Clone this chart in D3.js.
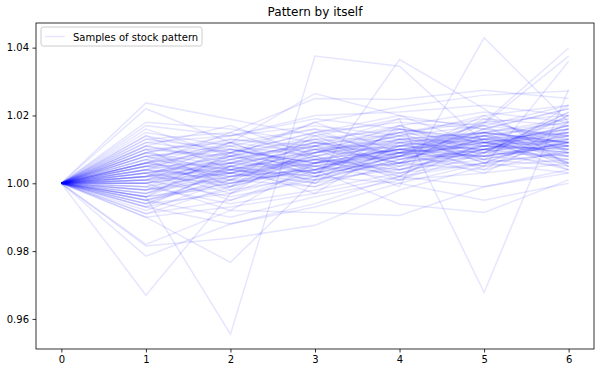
<!DOCTYPE html>
<html>
<head>
    <meta charset="utf-8" />
    <title>Pattern by itself</title>
    <script src="https://d3js.org/d3.v7.min.js"></script>
    <style>
        body { margin: 0; background: #fff; }
        text { font-family: "DejaVu Sans", sans-serif; fill: #000; }
        .tick text { font-size: 10px; }
        .tick line { stroke: #000; stroke-width: 0.8; }
        .domain { display: none; }
        .line { fill: none; stroke: blue; stroke-opacity: 0.1; stroke-width: 1.5; }
    </style>
</head>
<body>
<div id="chart"></div>
<script>
    // time steps (x axis)
    var steps = [0, 1, 2, 3, 4, 5, 6];
    var xTicks = [0, 1, 2, 3, 4, 5, 6];
    var yTicks = [0.96, 0.98, 1.00, 1.02, 1.04];

    // samples, each starts at 1.0 (value at step 0 is prepended below)
    var samples = [
        [1.0237, 1.0189, 1.0140, 1.0120, 1.0150, 1.0180],
        [1.0220, 1.0120, 1.0265, 1.0200, 1.0160, 1.0220],
        [0.9670, 0.9970, 1.0060, 1.0100, 1.0080, 1.0120],
        [0.9960, 0.9555, 1.0375, 1.0345, 1.0120, 1.0150],
        [0.9900, 0.9767, 1.0010, 1.0365, 1.0220, 1.0050],
        [1.0050, 1.0030, 1.0080, 0.9990, 1.0429, 1.0180],
        [1.0030, 1.0070, 1.0110, 1.0190, 0.9678, 1.0277],
        [1.0080, 1.0100, 1.0060, 1.0090, 1.0180, 1.0399],
        [0.9950, 1.0000, 1.0040, 1.0060, 1.0175, 1.0375],
        [1.0010, 1.0050, 1.0020, 1.0080, 1.0050, 1.0360],
        [0.9785, 0.9880, 0.9940, 1.0020, 1.0060, 1.0090],
        [0.9815, 0.9838, 0.9876, 0.9980, 1.0050, 1.0070],
        [0.9820, 0.9920, 0.9914, 0.9905, 0.9990, 1.0040],
        [1.0130, 1.0150, 1.0250, 1.0247, 1.0274, 1.0250],
        [1.0140, 1.0090, 1.0180, 1.0225, 1.0260, 1.0272],
        [1.0100, 1.0120, 1.0090, 1.0130, 1.0150, 1.0120],
        [1.0060, 1.0020, 1.0040, 0.9938, 0.9914, 1.0010],
        [0.9930, 0.9880, 0.9930, 1.0000, 0.9950, 1.0000],
        [0.9980, 1.0040, 1.0070, 1.0100, 1.0120, 1.0140],
        [1.0020, 1.0060, 1.0050, 1.0090, 1.0110, 1.0100],
        [1.0040, 1.0010, 1.0080, 1.0110, 1.0090, 1.0130],
        [0.9990, 1.0030, 1.0000, 1.0050, 1.0080, 1.0060],
        [1.0110, 1.0070, 1.0120, 1.0100, 1.0140, 1.0170],
        [0.9960, 0.9990, 1.0060, 1.0040, 1.0100, 1.0110],
        [1.0000, 1.0080, 1.0130, 1.0160, 1.0120, 1.0090],
        [1.0070, 1.0040, 1.0010, 1.0070, 1.0130, 1.0160],
        [0.9940, 0.9970, 1.0030, 1.0090, 1.0070, 1.0120],
        [1.0090, 1.0130, 1.0100, 1.0150, 1.0180, 1.0200],
        [1.0030, 0.9990, 1.0050, 1.0030, 1.0090, 1.0080],
        [0.9920, 1.0010, 0.9990, 1.0060, 1.0040, 1.0100],
        [1.0120, 1.0090, 1.0150, 1.0180, 1.0160, 1.0140],
        [1.0050, 1.0060, 1.0100, 1.0120, 1.0100, 1.0170],
        [0.9970, 1.0020, 1.0070, 1.0050, 1.0110, 1.0130],
        [1.0150, 1.0110, 1.0080, 1.0130, 1.0110, 1.0070],
        [1.0020, 1.0040, 1.0090, 1.0140, 1.0200, 1.0230],
        [0.9910, 0.9950, 1.0020, 1.0000, 1.0060, 1.0030],
        [1.0060, 1.0100, 1.0060, 1.0080, 1.0130, 1.0110],
        [1.0010, 0.9960, 1.0010, 1.0070, 1.0100, 1.0140],
        [1.0170, 1.0140, 1.0190, 1.0160, 1.0130, 1.0190],
        [0.9980, 1.0020, 1.0040, 1.0110, 1.0150, 1.0120],
        [1.0040, 1.0080, 1.0110, 1.0090, 1.0120, 1.0160],
        [1.0090, 1.0050, 1.0070, 1.0120, 1.0140, 1.0100],
        [0.9950, 1.0010, 1.0090, 1.0140, 1.0110, 1.0150],
        [1.0030, 1.0060, 1.0030, 1.0060, 1.0090, 1.0210],
        [1.0000, 1.0030, 1.0060, 1.0100, 1.0130, 1.0120],
        [1.0180, 1.0160, 1.0120, 1.0170, 1.0210, 1.0180],
        [0.9930, 0.9980, 1.0020, 1.0080, 1.0080, 1.0110],
        [1.0060, 1.0030, 1.0100, 1.0070, 1.0120, 1.0090],
        [1.0100, 1.0080, 1.0140, 1.0190, 1.0170, 1.0230],
        [0.9970, 1.0050, 1.0010, 1.0040, 1.0070, 1.0050],
        [1.0020, 1.0000, 1.0070, 1.0100, 1.0090, 1.0140],
        [1.0080, 1.0110, 1.0160, 1.0130, 1.0150, 1.0120],
        [0.9990, 0.9940, 0.9980, 1.0030, 1.0060, 1.0090],
        [1.0050, 1.0090, 1.0040, 1.0110, 1.0100, 1.0080],
        [1.0130, 1.0100, 1.0060, 1.0100, 1.0080, 1.0110],
        [0.9960, 1.0000, 1.0050, 1.0080, 1.0140, 1.0180],
        [1.0010, 1.0070, 1.0120, 1.0090, 1.0110, 1.0100],
        [1.0040, 1.0020, 1.0060, 1.0130, 1.0120, 1.0160],
        [0.9900, 0.9930, 0.9970, 1.0020, 0.9990, 1.0030],
        [1.0070, 1.0130, 1.0110, 1.0150, 1.0190, 1.0170],
        [1.0000, 1.0040, 1.0100, 1.0060, 1.0100, 1.0130],
        [1.0110, 1.0060, 1.0090, 1.0110, 1.0130, 1.0150],
        [0.9980, 1.0010, 1.0030, 1.0080, 1.0120, 1.0110],
        [1.0030, 1.0080, 1.0050, 1.0100, 1.0150, 1.0190],
        [1.0050, 1.0000, 1.0040, 1.0090, 1.0080, 1.0120],
        [0.9950, 0.9900, 0.9960, 1.0010, 1.0030, 1.0060],
        [1.0090, 1.0140, 1.0170, 1.0140, 1.0170, 1.0140],
        [1.0020, 1.0050, 1.0110, 1.0160, 1.0130, 1.0100],
        [1.0060, 1.0090, 1.0130, 1.0110, 1.0140, 1.0120],
        [1.0010, 1.0030, 1.0070, 1.0040, 1.0100, 1.0150],
        [0.9940, 1.0040, 1.0020, 1.0060, 1.0110, 1.0090],
        [1.0120, 1.0140, 1.0200, 1.0210, 1.0230, 1.0200],
        [1.0040, 0.9970, 1.0110, 1.0020, 1.0150, 1.0060],
        [0.9960, 1.0090, 1.0000, 1.0170, 1.0080, 1.0200],
        [1.0100, 0.9990, 1.0140, 1.0050, 1.0190, 1.0110],
        [1.0020, 1.0120, 1.0030, 1.0160, 1.0070, 1.0230],
        [0.9930, 1.0050, 0.9970, 1.0120, 1.0040, 1.0180],
        [1.0080, 1.0010, 1.0150, 1.0080, 1.0200, 1.0090],
        [1.0000, 0.9920, 1.0060, 1.0150, 1.0060, 1.0140],
        [1.0060, 1.0150, 1.0070, 1.0020, 1.0140, 1.0050],
        [0.9980, 1.0080, 1.0180, 1.0090, 1.0030, 1.0160],
        [1.0140, 1.0040, 1.0000, 1.0110, 1.0170, 1.0060],
        [0.9910, 0.9990, 1.0100, 1.0010, 1.0090, 1.0200],
        [1.0050, 1.0110, 1.0020, 1.0080, 1.0180, 1.0130],
        [1.0030, 0.9950, 1.0040, 1.0120, 1.0100, 1.0040],
        [0.9970, 1.0060, 1.0130, 1.0040, 1.0110, 1.0170],
        [1.0110, 1.0170, 1.0080, 1.0140, 1.0060, 1.0150],
        [1.0010, 1.0100, 1.0050, 1.0010, 1.0120, 1.0080],
        [0.9950, 1.0030, 0.9990, 1.0090, 1.0150, 1.0110],
        [1.0070, 0.9980, 1.0090, 1.0170, 1.0090, 1.0210],
        [1.0040, 1.0120, 1.0160, 1.0070, 1.0130, 1.0040],
        [0.9990, 1.0070, 1.0030, 1.0130, 1.0070, 1.0120],
        [1.0090, 1.0030, 1.0120, 1.0060, 1.0160, 1.0100],
        [1.0020, 1.0090, 1.0150, 1.0200, 1.0110, 1.0170],
        [0.9940, 1.0020, 1.0080, 1.0030, 1.0100, 1.0070],
        [1.0060, 1.0120, 1.0040, 1.0100, 1.0050, 1.0130],
        [1.0160, 1.0080, 1.0030, 1.0090, 1.0140, 1.0080],
        [1.0000, 1.0060, 1.0120, 1.0080, 1.0160, 1.0220],
        [1.0080, 1.0040, 1.0090, 1.0150, 1.0120, 1.0060],
        [0.9960, 1.0050, 1.0110, 1.0060, 1.0100, 1.0160]
    ];
    var startValue = 1.0;

    var W = 601, H = 373;
    var margin = { top: 23, right: 7, bottom: 24, left: 36 };
    var width = W - margin.left - margin.right,
        height = H - margin.top - margin.bottom;

    var series = samples.map(function (s) { return [startValue].concat(s); });

    // matplotlib style 5% padding around the data
    var ymin = d3.min(series, function (s) { return d3.min(s); });
    var ymax = d3.max(series, function (s) { return d3.max(s); });
    var ypad = (ymax - ymin) * 0.05;
    var xpad = (d3.max(steps) - d3.min(steps)) * 0.05;

    var x = d3.scaleLinear().domain([d3.min(steps) - xpad, d3.max(steps) + xpad]).range([0, width]);
    var y = d3.scaleLinear().domain([ymin - ypad, ymax + ypad]).range([height, 0]);

    var valueline = d3.line()
        .x(function (d, i) { return x(steps[i]); })
        .y(function (d) { return y(d); });

    var svgRoot = d3.select("#chart").append("svg")
        .attr("width", W)
        .attr("height", H);

    var svg = svgRoot.append("g")
        .attr("transform", "translate(" + margin.left + "," + margin.top + ")");

    // sample lines
    svg.selectAll("path.line")
        .data(series)
        .enter().append("path")
        .attr("class", "line")
        .attr("d", valueline);

    // axes
    svg.append("g")
        .attr("transform", "translate(0," + height + ")")
        .call(d3.axisBottom(x).tickValues(xTicks).tickSize(3.5).tickPadding(3.5).tickFormat(d3.format("d")));

    svg.append("g")
        .call(d3.axisLeft(y).tickValues(yTicks).tickSize(3.5).tickPadding(3.5).tickFormat(d3.format(".2f")));

    // frame
    svg.append("rect")
        .attr("width", width)
        .attr("height", height)
        .attr("fill", "none")
        .attr("stroke", "#000")
        .attr("stroke-width", 0.8);

    // title
    svgRoot.append("text")
        .attr("x", margin.left + width / 2)
        .attr("y", 16)
        .attr("text-anchor", "middle")
        .style("font-size", "12px")
        .text("Pattern by itself");

    // legend
    var legend = svg.append("g").attr("transform", "translate(5,4)");
    legend.append("rect")
        .attr("width", 161)
        .attr("height", 19)
        .attr("rx", 2.5)
        .attr("fill", "#fff")
        .attr("fill-opacity", 0.8)
        .attr("stroke", "#ccc");
    legend.append("line")
        .attr("x1", 4).attr("x2", 24)
        .attr("y1", 9.5).attr("y2", 9.5)
        .attr("class", "line");
    legend.append("text")
        .attr("x", 32)
        .attr("y", 13.5)
        .style("font-size", "10px")
        .text("Samples of stock pattern");
</script>
</body>
</html>
